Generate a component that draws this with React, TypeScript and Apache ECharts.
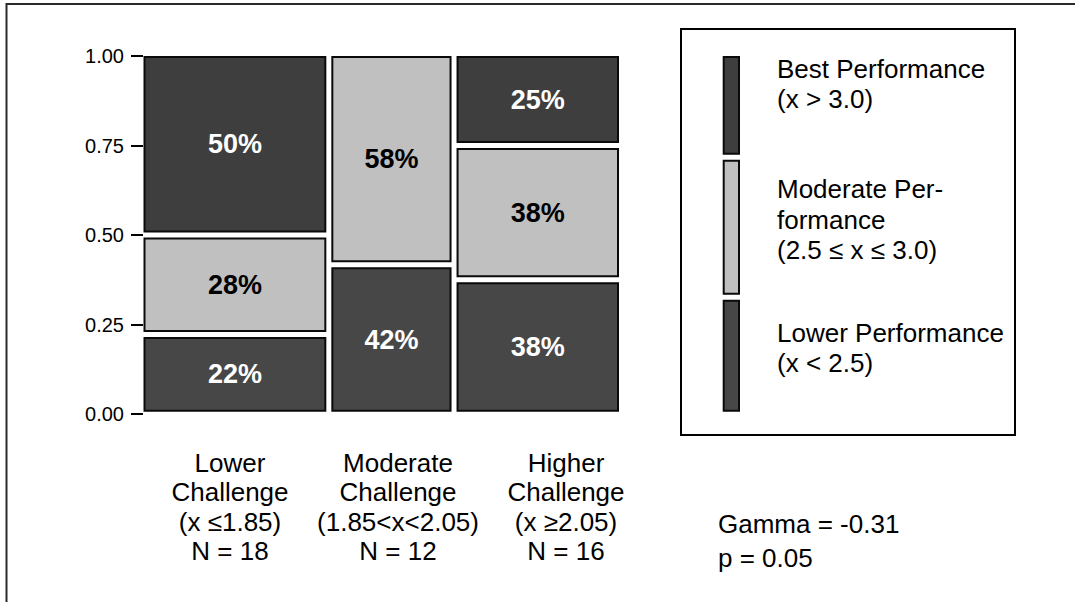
import React, { useEffect, useRef } from "react";
import * as echarts from "echarts";

// ---- data ----
const challengeNames = ["Lower\nChallenge", "Moderate\nChallenge", "Higher\nChallenge"];
const challengeRanges = ["(x ≤1.85)", "(1.85<x<2.05)", "(x ≥2.05)"];
// counts per challenge group (bottom to top: lower, moderate, best performance)
const lowerCounts = [4, 5, 6];
const moderateCounts = [5, 7, 6];
const bestCounts = [9, 0, 4];
const yTicks = [0, 0.25, 0.5, 0.75, 1];
const legendLabels = [
  "Best Performance\n(x > 3.0)",
  "Moderate Per-\nformance\n(2.5 ≤ x ≤ 3.0)",
  "Lower Performance\n(x < 2.5)",
];
const gamma = -0.31;
const pValue = 0.05;

// ---- styling ----
const FONT = '"Liberation Sans", Arial, Helvetica, sans-serif';
const DARK_TOP = "#3e3e3e";
const LIGHT = "#c0c0c0";
const DARK_LOW = "#474747";
const levelColors = [DARK_LOW, LIGHT, DARK_TOP];
const levelText = ["#ffffff", "#000000", "#ffffff"];

type Cell = { x0: number; x1: number; y0: number; y1: number; level: number; label: string };

const levels = [lowerCounts, moderateCounts, bestCounts];
const groupN = lowerCounts.map((_, i) => levels.reduce((s, l) => s + l[i], 0));
const totalN = groupN.reduce((a, b) => a + b, 0);

const mainCells: Cell[] = [];
{
  let xs = 0;
  groupN.forEach((n, i) => {
    let ys = 0;
    levels.forEach((arr, li) => {
      const v = arr[i];
      if (v > 0) {
        const frac = v / n;
        mainCells.push({
          x0: xs,
          x1: xs + n,
          y0: ys,
          y1: ys + frac,
          level: li,
          label: Math.round((v / n) * 100) + "%",
        });
        ys += frac;
      }
    });
    xs += n;
  });
}

const legendCells: Cell[] = [];
{
  let ys = 0;
  levels.forEach((arr, li) => {
    const s = arr.reduce((a, b) => a + b, 0);
    const frac = s / totalN;
    legendCells.push({ x0: 0, x1: 1, y0: ys, y1: ys + frac, level: li, label: "" });
    ys += frac;
  });
}

const categoryLabels = challengeNames.map(
  (n, i) => `${n}\n${challengeRanges[i]}\nN = ${groupN[i]}`
);

function makeRender(
  cells: Cell[],
  xMax: number,
  ins: { l: number; r: number; t: number; b: number; gap: number }
) {
  return (params: any, api: any) => {
    const c = cells[params.dataIndex];
    const pBL = api.coord([c.x0, c.y0]);
    const pTR = api.coord([c.x1, c.y1]);
    const sw = 1; // half stroke
    const left = pBL[0] + (c.x0 === 0 ? ins.l : ins.gap) + sw;
    const right = pTR[0] - (c.x1 >= xMax - 1e-9 ? ins.r : ins.gap) - sw;
    const bottom = pBL[1] - (c.y0 === 0 ? ins.b : ins.gap) - sw;
    const top = pTR[1] + (c.y1 >= 1 - 1e-9 ? ins.t : ins.gap) + sw;
    const children: any[] = [
      {
        type: "rect",
        shape: { x: left, y: top, width: right - left, height: bottom - top },
        style: { fill: levelColors[c.level], stroke: "#0a0a0a", lineWidth: 2 },
      },
    ];
    if (c.label) {
      children.push({
        type: "text",
        style: {
          text: c.label,
          x: (left + right) / 2,
          y: (top + bottom) / 2,
          align: "center",
          verticalAlign: "middle",
          fill: levelText[c.level],
          fontSize: 27,
          fontWeight: "bold",
          fontFamily: FONT,
        },
      });
    }
    return { type: "group", children };
  };
}

export default function App() {
  const ref = useRef<HTMLDivElement>(null);
  useEffect(() => {
    if (!ref.current) return;
    const chart = echarts.init(ref.current, undefined, { renderer: "svg" });
    const legendTops = [53.5, 174.2, 317.5];
    const option: any = {
      animation: false,
      backgroundColor: "#ffffff",
      grid: [
        { left: 141, top: 56, width: 480, height: 358 },
        { left: 146, top: 56, width: 504, height: 358 },
        { left: 722.7, top: 56, width: 17.3, height: 358 },
      ],
      xAxis: [
        { gridIndex: 0, type: "value", min: 0, max: totalN, show: false },
        {
          gridIndex: 1,
          type: "category",
          data: categoryLabels,
          axisLine: { show: false },
          axisTick: { show: false },
          splitLine: { show: false },
          axisLabel: {
            interval: 0,
            margin: 34,
            fontSize: 26,
            lineHeight: 29.4,
            color: "#000",
            fontFamily: FONT,
          },
        },
        { gridIndex: 2, type: "value", min: 0, max: 1, show: false },
      ],
      yAxis: [
        {
          gridIndex: 0,
          type: "value",
          min: 0,
          max: 1,
          interval: 0.25,
          offset: -2,
          axisLine: { show: false },
          axisTick: { show: true, length: 12, lineStyle: { color: "#000", width: 2 } },
          splitLine: { show: false },
          axisLabel: {
            margin: 19,
            fontSize: 20,
            color: "#000",
            fontFamily: FONT,
            customValues: yTicks,
            formatter: (v: number) => v.toFixed(2),
          },
        },
        { gridIndex: 1, type: "value", min: 0, max: 1, show: false },
        { gridIndex: 2, type: "value", min: 0, max: 1, show: false },
      ],
      series: [
        {
          type: "custom",
          xAxisIndex: 0,
          yAxisIndex: 0,
          data: mainCells.map((c) => [c.x0, c.x1, c.y0, c.y1]),
          encode: { x: [0, 1], y: [2, 3] },
          renderItem: makeRender(mainCells, totalN, { l: 2.5, r: 2, t: 0, b: 2.3, gap: 2.5 }),
        },
        {
          type: "custom",
          xAxisIndex: 2,
          yAxisIndex: 2,
          data: legendCells.map((c) => [c.x0, c.x1, c.y0, c.y1]),
          encode: { x: [0, 1], y: [2, 3] },
          renderItem: makeRender(legendCells, 1, { l: 0, r: 0, t: 0, b: 2.3, gap: 2.5 }),
        },
      ],
      graphic: [
        {
          type: "polyline",
          shape: { points: [[6.5, 602], [6.5, 4], [1075, 4]] },
          style: { fill: "none", stroke: "#2a2a2a", lineWidth: 2 },
          silent: true,
        },
        {
          type: "rect",
          shape: { x: 681, y: 29, width: 334, height: 406 },
          style: { fill: "none", stroke: "#000", lineWidth: 2 },
          silent: true,
        },
        ...[2, 1, 0].map((li, k) => ({
          type: "text",
          x: 777,
          y: legendTops[k],
          style: {
            text: legendLabels[k],
            fontSize: 26,
            lineHeight: 30.5,
            fontFamily: FONT,
            fill: "#000",
            verticalAlign: "top",
            align: "left",
          },
          silent: true,
        })),
        {
          type: "text",
          x: 718,
          y: 511,
          style: {
            text: `Gamma = ${gamma.toFixed(2)}`,
            fontSize: 26,
            lineHeight: 26,
            fontFamily: FONT,
            fill: "#000",
            verticalAlign: "top",
            align: "left",
          },
          silent: true,
        },
        {
          type: "text",
          x: 718,
          y: 545,
          style: {
            text: `p = ${pValue.toFixed(2)}`,
            fontSize: 26,
            lineHeight: 26,
            fontFamily: FONT,
            fill: "#000",
            verticalAlign: "top",
            align: "left",
          },
          silent: true,
        },
      ],
    };
    chart.setOption(option);
    return () => chart.dispose();
  }, []);
  return (
    <div
      ref={ref}
      style={{ position: "fixed", left: 0, top: 0, width: 1075, height: 602, background: "#fff" }}
    />
  );
}
